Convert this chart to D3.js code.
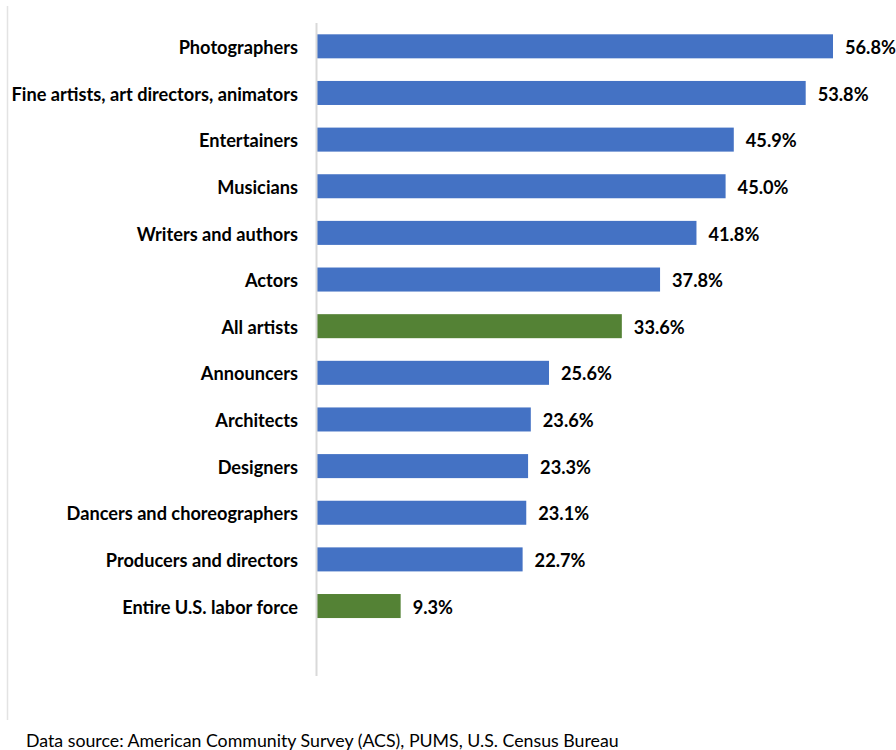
<!DOCTYPE html>
<html>
<head>
<meta charset="utf-8">
<script src="https://cdn.jsdelivr.net/npm/d3@7"></script>
<style>
  body { margin: 0; background: #fff; }
  svg { display: block; }
</style>
</head>
<body>
<div id="chart"></div>
<script>
// data
var occupations = ["Photographers", "Fine artists, art directors, animators", "Entertainers",
  "Musicians", "Writers and authors", "Actors", "All artists", "Announcers", "Architects",
  "Designers", "Dancers and choreographers", "Producers and directors", "Entire U.S. labor force"];
var shares = [56.8, 53.8, 45.9, 45.0, 41.8, 37.8, 33.6, 25.6, 23.6, 23.3, 23.1, 22.7, 9.3];
var highlighted = ["All artists", "Entire U.S. labor force"];
var sourceNote = "Data source: American Community Survey (ACS), PUMS, U.S. Census Bureau";

var W = 896, H = 750;
var svg = d3.select("#chart").append("svg")
  .attr("width", W)
  .attr("height", H);

// faint frame line on the left
svg.append("line")
  .attr("x1", 7.5).attr("x2", 7.5)
  .attr("y1", 6).attr("y2", 720)
  .attr("stroke", "#e3e3e3").attr("stroke-width", 1.5);

var x = d3.scaleLinear()
  .domain([0, 56.8])
  .range([316, 833]);

// one empty slot kept below the last bar, like in the original
var y = d3.scaleBand()
  .domain(occupations.concat(["__blank"]))
  .range([23, 676])
  .paddingInner(0.485)
  .paddingOuter(0.2425);

var rows = occupations.map(function(d, i) { return {name: d, value: shares[i]}; });

svg.selectAll("rect.bar")
  .data(rows)
  .enter()
  .append("rect")
    .attr("class", "bar")
    .attr("x", x(0))
    .attr("y", function(d) { return y(d.name); })
    .attr("width", function(d) { return x(d.value) - x(0); })
    .attr("height", y.bandwidth())
    .attr("fill", function(d) { return highlighted.indexOf(d.name) >= 0 ? "#548235" : "#4472C4"; });

// category axis
var yAxis = svg.append("g")
  .attr("transform", "translate(" + x(0) + ",0)")
  .call(d3.axisLeft(y).tickSize(0).tickPadding(18)
    .tickFormat(function(d) { return d === "__blank" ? "" : d; }));
yAxis.select(".domain")
  .attr("d", "M0.5," + y.range()[0] + "V" + y.range()[1])
  .attr("stroke", "#d9d9d9").attr("stroke-width", 2);
yAxis.selectAll("text")
  .attr("dy", "0.42em")
  .attr("font-family", "Lato, 'Open Sans', sans-serif")
  .attr("font-weight", "bold")
  .attr("font-size", "18.2px")
  .attr("fill", "#000");

// value labels
svg.selectAll("text.val")
  .data(rows)
  .enter()
  .append("text")
    .attr("class", "val")
    .attr("x", function(d) { return x(d.value) + 12; })
    .attr("y", function(d) { return y(d.name) + y.bandwidth() / 2; })
    .attr("dy", "0.42em")
    .attr("font-family", "Lato, 'Open Sans', sans-serif")
    .attr("font-weight", "bold")
    .attr("font-size", "18.2px")
    .text(function(d) { return d.value.toFixed(1) + "%"; });

svg.append("text")
  .attr("x", 26)
  .attr("y", 747)
  .attr("font-family", "Lato, 'Open Sans', sans-serif")
  .attr("font-size", "17.75px")
  .text(sourceNote);
</script>
</body>
</html>
